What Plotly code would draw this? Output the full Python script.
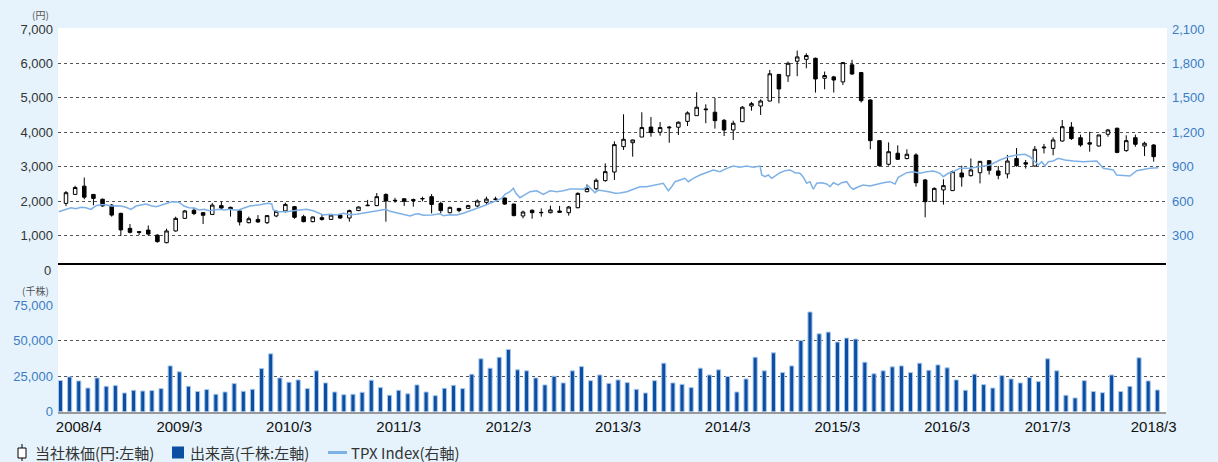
import plotly.graph_objects as go

# Monthly share price candles, 2008/4 - 2018/3 (yen)
price_open = [1940, 2200, 2440, 2200, 2060, 1890, 1650, 1215, 1120, 1165,
              1020, 800, 1140, 1505, 1740, 1670, 1620, 1875, 1825, 1720,
              1380, 1475, 1380, 1575, 1720, 1845, 1555, 1410, 1525, 1475,
              1600, 1515, 1730, 1870, 1875, 2200, 2030, 2075, 2050, 2070,
              2135, 1940, 1670, 1795, 1795, 1865, 1970, 2070, 2095, 1920,
              1575, 1740, 1680, 1670, 1720, 1670, 1815, 2280, 2365, 2600,
              2850, 3585, 3700, 3865, 4155, 4005, 4130, 4150, 4320, 4485,
              4680, 4585, 4350, 4070, 4310, 4765, 4765, 4910, 5680, 5640,
              6065, 6120, 6150, 5570, 5610, 5465, 5960, 5735, 4940, 3760,
              3075, 3395, 3240, 3345, 2620, 2000, 2330, 2310, 2820, 2745,
              2830, 3180, 2880, 2795, 3240, 3120, 3025, 3550, 3535, 3750,
              4155, 3845, 3700, 3605, 3945, 4120, 3470, 3845, 3605, 3635]
price_high = [2300, 2450, 2690, 2210, 2080, 1920, 1670, 1340, 1125, 1300,
              1040, 1205, 1555, 1750, 1810, 1690, 1950, 1990, 1845, 1750,
              1555, 1600, 1600, 1740, 1960, 1865, 1610, 1560, 1600, 1620,
              1620, 1760, 1850, 2040, 2240, 2230, 2100, 2080, 2080, 2135,
              2210, 1990, 1845, 1800, 1900, 2055, 2135, 2135, 2110, 1930,
              1730, 1765, 1795, 1875, 1865, 1865, 2260, 2490, 2665, 3100,
              3740, 4525, 3790, 4585, 4445, 4300, 4185, 4320, 4610, 5165,
              4815, 5000, 4390, 4340, 4765, 4885, 4960, 5810, 5700, 6055,
              6375, 6295, 6170, 5765, 5640, 6045, 6105, 5755, 4960, 3770,
              3710, 3625, 3510, 3395, 2650, 2405, 2640, 2890, 3035, 3245,
              3170, 3190, 3025, 3345, 3545, 3200, 3605, 3665, 3855, 4360,
              4300, 3935, 4020, 3935, 4100, 4140, 3915, 3935, 3730, 3655]
price_low = [1860, 2190, 2060, 1885, 1845, 1555, 995, 1070, 1020, 1010,
             800, 780, 1120, 1490, 1600, 1340, 1600, 1750, 1555, 1300,
             1360, 1380, 1340, 1540, 1670, 1495, 1390, 1390, 1440, 1460,
             1490, 1410, 1720, 1865, 1860, 1410, 1960, 1865, 1845, 2000,
             1650, 1650, 1650, 1680, 1790, 1825, 1920, 2020, 1895, 1565,
             1505, 1495, 1555, 1650, 1670, 1585, 1795, 2260, 2320, 2570,
             2620, 3490, 3295, 3865, 3875, 3905, 3700, 3925, 4185, 4480,
             4265, 4110, 3895, 3780, 4300, 4630, 4505, 4900, 4845, 5465,
             5630, 5860, 5155, 5250, 5155, 5375, 5665, 4865, 3510, 3005,
             3035, 3200, 3220, 2425, 1535, 1990, 1905, 2300, 2425, 2715,
             2520, 2775, 2640, 2665, 3005, 2950, 3005, 3390, 3335, 3730,
             3780, 3585, 3440, 3585, 3875, 3395, 3440, 3585, 3315, 3150]
price_close = [2250, 2400, 2120, 2085, 1865, 1600, 1170, 1100, 1100, 1050,
               830, 1140, 1505, 1720, 1645, 1595, 1890, 1805, 1765, 1400,
               1495, 1400, 1585, 1710, 1910, 1535, 1410, 1545, 1475, 1600,
               1515, 1730, 1835, 1885, 2135, 2010, 2020, 2000, 2020, 2080,
               1910, 1730, 1825, 1730, 1875, 2010, 2065, 2055, 1920, 1585,
               1690, 1670, 1670, 1750, 1680, 1835, 2230, 2375, 2610, 2860,
               3645, 3800, 3780, 4140, 3995, 4140, 4150, 4295, 4565, 4730,
               4660, 4340, 4070, 4265, 4730, 4835, 4910, 5700, 5260, 6005,
               6190, 6230, 5550, 5650, 5520, 6025, 5695, 4920, 3760, 3035,
               3440, 3220, 3365, 2540, 1990, 2375, 2455, 2860, 2705, 2910,
               3160, 2900, 2755, 3170, 3035, 3080, 3510, 3570, 3780, 4165,
               3820, 3635, 3660, 3925, 4070, 3420, 3760, 3655, 3685, 3295]

# Monthly trading volume (thousand shares), 2008/3 - 2018/3
volume = [22000, 24500, 21700, 16700, 23800, 17900, 18400, 13200, 15100, 14600,
          14900, 16300, 32300, 28100, 17900, 14200, 15600, 12300, 13900, 19800,
          14400, 15800, 30400, 40800, 23800, 20800, 22400, 16300, 28800, 20300,
          13900, 12000, 12300, 13700, 22200, 17000, 11600, 15100, 12600, 18900,
          13900, 11300, 16500, 18600, 16300, 26400, 37300, 30700, 38400, 43900,
          29500, 28800, 23800, 18900, 25000, 20300, 28800, 31800, 21900, 25900,
          20000, 22400, 20500, 15800, 13200, 21900, 34200, 20300, 19300, 17000,
          30700, 25900, 29500, 24800, 13900, 23100, 38400, 28800, 41500, 27600,
          32300, 50200, 70300, 54900, 56100, 49100, 51900, 51200, 34900, 26700,
          28800, 31600, 32300, 27600, 34200, 29200, 33000, 30900, 22400, 15100,
          26400, 19100, 16700, 25500, 23100, 20300, 24100, 21200, 37300, 28800,
          11600, 9700, 21900, 14200, 13400, 25900, 14200, 17900, 38000, 21700,
          15300]

# TPX Index (right axis); positions in months from 2008/4
tpx_pos = [-0.8, 0.0, 0.55, 1.09, 1.64, 2.19, 2.74, 3.28, 3.83, 4.38,
           4.92, 5.47, 6.02, 6.56, 7.11, 7.66, 8.21, 8.75, 9.30, 9.85,
           10.39, 10.94, 11.49, 12.04, 12.40, 12.91, 13.46, 14.00, 14.58, 15.13,
           15.68, 16.23, 16.77, 17.32, 17.87, 18.41, 18.93, 19.47, 20.13, 21.23,
           22.10, 22.51, 22.68, 23.23, 24.15, 24.87, 25.60, 26.33, 27.06, 27.60,
           28.15, 28.88, 29.62, 30.34, 31.07, 31.80, 32.53, 33.26, 33.99, 34.54,
           35.01, 35.45, 36.18, 36.90, 37.64, 38.18, 38.54, 39.09, 40.01, 40.92,
           41.28, 42.01, 42.75, 43.47, 44.20, 44.93, 45.66, 46.39, 47.12, 47.67,
           48.03, 48.58, 48.94, 49.23, 49.67, 50.22, 50.77, 51.50, 52.22, 52.95,
           53.69, 54.41, 55.14, 55.87, 56.60, 57.14, 57.52, 57.88, 58.24, 58.79,
           59.52, 60.07, 60.61, 61.35, 62.07, 62.80, 63.53, 64.26, 64.99, 65.35,
           65.72, 65.90, 66.27, 66.63, 67.18, 67.72, 68.09, 68.63, 69.37, 70.10,
           70.82, 71.55, 72.29, 73.01, 73.74, 74.47, 75.20, 75.93, 76.12, 76.48,
           76.84, 77.21, 77.57, 78.12, 78.67, 79.21, 79.76, 80.31, 80.67, 81.04,
           81.40, 81.76, 82.13, 82.68, 83.23, 83.59, 83.95, 84.49, 84.87, 85.42,
           85.78, 86.14, 86.69, 87.23, 87.96, 88.70, 89.42, 90.15, 90.70, 91.06,
           91.61, 91.98, 92.70, 93.44, 94.17, 94.89, 95.62, 95.98, 96.53, 97.08,
           97.81, 98.91, 100.00, 101.09, 102.19, 103.10, 104.02, 104.92, 105.47, 106.02,
           106.38, 106.75, 107.11, 107.47, 108.02, 108.56, 109.30, 110.21, 111.30, 112.77,
           113.13, 113.49, 114.58, 114.95, 116.41, 117.14, 118.60, 119.51]
tpx_val = [509, 530, 544, 536, 548, 544, 530, 562, 570, 570,
           559, 562, 559, 548, 530, 559, 570, 577, 562, 553,
           565, 583, 594, 597, 591, 559, 544, 542, 524, 530,
           518, 524, 530, 524, 530, 524, 524, 542, 559, 570,
           583, 577, 524, 509, 509, 518, 524, 530, 518, 501,
           481, 487, 481, 496, 483, 487, 496, 507, 516, 524,
           530, 513, 501, 489, 472, 487, 492, 478, 481, 492,
           475, 483, 481, 496, 516, 539, 559, 583, 611, 626,
           661, 684, 713, 670, 631, 655, 684, 692, 661, 692,
           684, 692, 707, 707, 705, 733, 705, 675, 698, 692,
           681, 670, 672, 684, 707, 727, 727, 739, 751, 757,
           713, 692, 727, 771, 786, 800, 771, 800, 829, 849,
           873, 858, 887, 907, 896, 907, 896, 907, 829, 814,
           829, 800, 820, 849, 867, 873, 849, 844, 809, 757,
           771, 705, 757, 762, 751, 727, 762, 742, 762, 771,
           727, 705, 727, 742, 733, 751, 762, 771, 751, 809,
           829, 849, 858, 844, 858, 864, 844, 814, 844, 858,
           887, 887, 902, 916, 960, 988, 1003, 1009, 988, 945,
           916, 945, 907, 945, 951, 975, 960, 951, 945, 951,
           916, 887, 873, 829, 820, 867, 887, 893]

tick_text = ["2008/4", "2009/3", "2010/3", "2011/3", "2012/3", "2013/3",
             "2014/3", "2015/3", "2016/3", "2017/3", "2018/3"]
price_ticks = [1000, 2000, 3000, 4000, 5000, 6000, 7000]
tpx_ticks = [300, 600, 900, 1200, 1500, 1800, 2100]
volume_ticks = [0, 25000, 50000, 75000]
legend_names = ["当社株価(円:左軸)", "出来高(千株:左軸)", "TPX Index(右軸)"]

W, H = 1218, 462
ML, MR = 58, 52
PW = W - ML - MR
BG = "#E6F3FC"
BLUE_TXT = "#3D7CC4"
BAR_BLUE = "#0B4EA2"
LINE_BLUE = "#7EB1E6"
NARROW = "Liberation Sans Narrow, Arial Narrow, Liberation Sans, sans-serif"
JP = "Noto Sans CJK JP, sans-serif"


def py(p):
    """paper y fraction for a pixel row measured from the top"""
    return 1 - p / H


def px(p):
    """paper x fraction for a pixel column measured from the left"""
    return (p - ML) / PW


candle_x = list(range(len(price_open)))
volume_x = list(range(len(volume)))

fig = go.Figure()
fig.add_trace(go.Candlestick(
    x=candle_x, open=price_open, high=price_high, low=price_low, close=price_close,
    xaxis="x", yaxis="y", name=legend_names[0], whiskerwidth=0,
    increasing=dict(fillcolor="white", line=dict(color="black", width=1)),
    decreasing=dict(fillcolor="black", line=dict(color="black", width=1)),
    hoverinfo="skip",
))
fig.add_trace(go.Bar(
    x=volume_x, y=volume, xaxis="x2", yaxis="y2", name=legend_names[1],
    width=0.45, marker=dict(color=BAR_BLUE, line=dict(color="#A9C9EC", width=1)),
    hoverinfo="skip",
))
fig.add_trace(go.Scatter(
    x=tpx_pos, y=tpx_val, xaxis="x", yaxis="y3", mode="lines",
    name=legend_names[2], line=dict(color=LINE_BLUE, width=1.5),
    hoverinfo="skip",
))

grid = dict(showgrid=True, gridcolor="#555555", griddash="dot", gridwidth=1)

# key row under the chart
key_shapes = [
    dict(type="line", xref="paper", yref="paper", x0=px(22), x1=px(22),
         y0=py(444), y1=py(461), line=dict(color="black", width=1)),
    dict(type="rect", xref="paper", yref="paper", x0=px(18), x1=px(26),
         y0=py(458), y1=py(448), fillcolor="white", line=dict(color="black", width=1)),
    dict(type="rect", xref="paper", yref="paper", x0=px(172), x1=px(184),
         y0=py(458.5), y1=py(446.5), fillcolor=BAR_BLUE, line=dict(width=0)),
    dict(type="line", xref="paper", yref="paper", x0=px(328), x1=px(347),
         y0=py(452.5), y1=py(452.5), line=dict(color=LINE_BLUE, width=3)),
]
key_text = [
    dict(text=name, xref="paper", yref="paper", x=px(x0), y=py(452),
         xanchor="left", yanchor="middle", showarrow=False,
         font=dict(size=15, family=JP, color="#333333"))
    for name, x0 in zip(legend_names, [33, 188, 349])
]

fig.update_layout(
    width=W, height=H,
    margin=dict(l=ML, r=MR, t=0, b=0),
    paper_bgcolor=BG, plot_bgcolor="white",
    font=dict(family=JP, color="#333333"),
    boxgap=0.45,
    showlegend=False,
    xaxis=dict(domain=[0, 1], anchor="y", range=[-0.875, 120.35], automargin=False,
               showticklabels=False, showgrid=False, zeroline=False,
               showline=True, linecolor="black", linewidth=1.5,
               rangeslider=dict(visible=False)),
    yaxis=dict(domain=[py(263), py(29)], range=[210, 7000], tickvals=price_ticks,
               tickformat=",d", zeroline=False, ticks="", ticklabelstandoff=4,
               automargin=False,
               tickfont=dict(size=13, family=NARROW, color="#333333"), **grid),
    yaxis3=dict(overlaying="y", side="right", anchor="x", range=[63, 2100],
                tickvals=tpx_ticks, tickformat=",d", showgrid=False, zeroline=False,
                ticks="", ticklabelstandoff=5, automargin=False,
                tickfont=dict(size=13, family=NARROW, color=BLUE_TXT)),
    xaxis2=dict(domain=[0, 1], anchor="y2", range=[-0.274, 120.95],
                tickvals=[2, 13, 25, 37, 49, 61, 73, 85, 97, 108, 119.6],
                ticktext=tick_text, ticks="", ticklabelstandoff=0, automargin=False,
                tickfont=dict(size=15, family=NARROW, color="#111111"),
                showgrid=False, zeroline=False,
                showline=True, linecolor="#9A9A9A", linewidth=2),
    yaxis2=dict(domain=[py(411.7), py(305.3)], range=[0, 75000], tickvals=volume_ticks,
                tickformat=",d", zeroline=False, ticks="", ticklabelstandoff=4,
                automargin=False,
                tickfont=dict(size=13, family=NARROW, color=BLUE_TXT), **grid),
    shapes=[dict(type="rect", xref="paper", yref="paper", x0=0, x1=px(1167),
                 y0=py(411.7), y1=py(28), fillcolor="white", line=dict(width=0),
                 layer="below")] + key_shapes,
    annotations=[
        dict(text="0", xref="paper", yref="paper", x=px(53), y=py(270),
             xanchor="right", yanchor="middle", showarrow=False,
             font=dict(size=13, family=NARROW, color="#333333")),
        dict(text="(円)", xref="paper", yref="paper", x=px(40), y=py(15),
             xanchor="center", yanchor="middle", showarrow=False,
             font=dict(size=10, family=JP, color="#555555")),
        dict(text="(千株)", xref="paper", yref="paper", x=px(35), y=py(290),
             xanchor="center", yanchor="middle", showarrow=False,
             font=dict(size=10, family=JP, color="#555555")),
    ] + key_text,
)

fig.write_html("out.html")
